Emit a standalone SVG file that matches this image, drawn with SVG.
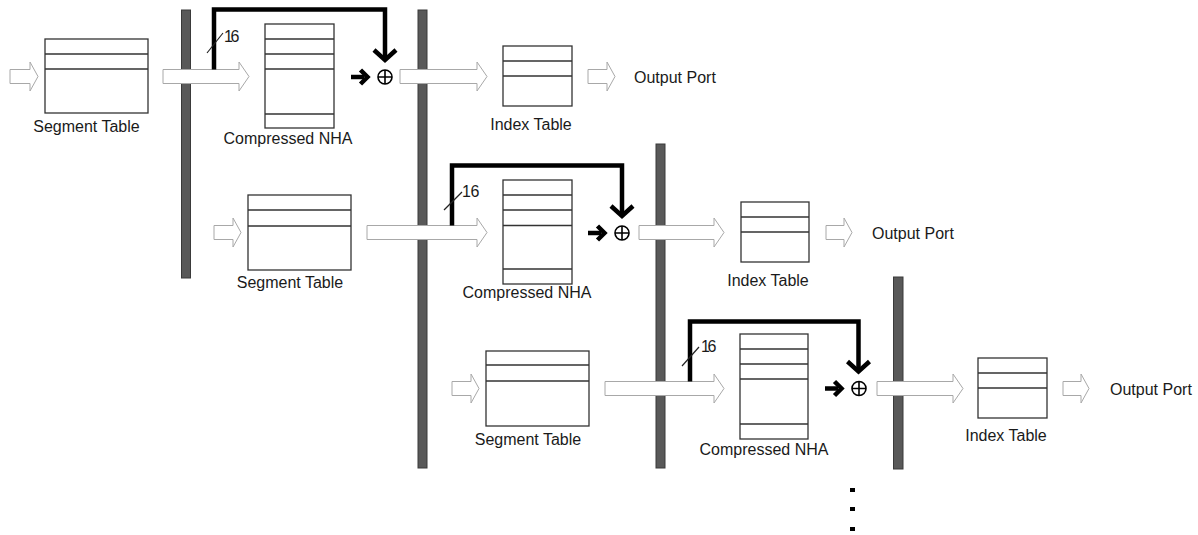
<svg xmlns="http://www.w3.org/2000/svg" width="1198" height="535" viewBox="0 0 1198 535">
  <style>
    .tbl { fill: #ffffff; stroke: #333333; stroke-width: 1.3; }
    .div { stroke: #333333; stroke-width: 1.3; fill: none; }
    .cross { stroke: #000000; stroke-width: 1.6; fill: none; }
    .bar { fill: #595959; stroke: #3a3a3a; stroke-width: 1; }
    .flow { fill: #ffffff; stroke: #a8a8a8; stroke-width: 1; }
    .fb { fill: none; stroke: #000000; stroke-width: 4.5; stroke-linejoin: miter; }
    .thin { fill: none; stroke: #222222; stroke-width: 1.2; }
    .adder { fill: #ffffff; stroke: #000000; stroke-width: 1.6; }
    .lbl { font-family: "Liberation Sans", Arial, sans-serif; font-size: 16px; fill: #1a1a1a; }
    .mid { text-anchor: middle; }
    .w { font-family: "Liberation Sans", Arial, sans-serif; font-size: 16px; fill: #1a1a1a; }
  </style>

  <!-- pipeline registers -->
  <g id="registers">
    <rect id="reg1" class="bar" x="181.5" y="10" width="9" height="268"/>
    <rect id="reg2" class="bar" x="418" y="10" width="9" height="458"/>
    <rect id="reg3" class="bar" x="656" y="144" width="9" height="324"/>
    <rect id="reg4" class="bar" x="893.5" y="277" width="9.5" height="192"/>
  </g>

  <!-- stage 1 -->
  <g id="seg1">
    <rect class="tbl" x="45" y="39" width="103" height="74"/>
    <path class="div" d="M45,54 H148 M45,69 H148"/>
    <text class="lbl mid" x="86.5" y="132">Segment Table</text>
  </g>
  <g id="nha1">
    <rect class="tbl" x="265" y="24" width="69" height="104"/>
    <path class="div" d="M265,39 H334 M265,54 H334 M265,69 H334 M265,114 H334"/>
    <text class="lbl mid" x="288" y="144">Compressed NHA</text>
  </g>
  <g id="add1">
    <circle class="adder" cx="385" cy="77" r="7"/>
    <path class="cross" d="M378,77 H392 M385,70 V84"/>
  </g>
  <g id="idx1">
    <rect class="tbl" x="503" y="46" width="69" height="60"/>
    <path class="div" d="M503,61 H572 M503,76 H572"/>
    <text class="lbl mid" x="531" y="130">Index Table</text>
  </g>
  <g id="out1">
    <text class="lbl" x="634" y="82.5">Output Port</text>
  </g>

  <!-- stage 2 -->
  <g id="seg2">
    <rect class="tbl" x="248" y="195" width="103" height="75"/>
    <path class="div" d="M248,210 H351 M248,226 H351"/>
    <text class="lbl mid" x="290" y="288">Segment Table</text>
  </g>
  <g id="nha2">
    <rect class="tbl" x="503" y="180" width="69" height="104"/>
    <path class="div" d="M503,195 H572 M503,210 H572 M503,225.5 H572 M503,269 H572"/>
    <text class="lbl mid" x="527" y="298">Compressed NHA</text>
  </g>
  <g id="add2">
    <circle class="adder" cx="622" cy="233" r="7"/>
    <path class="cross" d="M615,233 H629 M622,226 V240"/>
  </g>
  <g id="idx2">
    <rect class="tbl" x="741" y="202" width="68" height="60"/>
    <path class="div" d="M741,217 H809 M741,232 H809"/>
    <text class="lbl mid" x="768" y="286">Index Table</text>
  </g>
  <g id="out2">
    <text class="lbl" x="872" y="238.5">Output Port</text>
  </g>

  <!-- stage 3 -->
  <g id="seg3">
    <rect class="tbl" x="486" y="351" width="103" height="75"/>
    <path class="div" d="M486,365 H589 M486,381 H589"/>
    <text class="lbl mid" x="528" y="445">Segment Table</text>
  </g>
  <g id="nha3">
    <rect class="tbl" x="740" y="334" width="68" height="105"/>
    <path class="div" d="M740,349 H808 M740,364 H808 M740,379 H808 M740,424 H808"/>
    <text class="lbl mid" x="764" y="455">Compressed NHA</text>
  </g>
  <g id="add3">
    <circle class="adder" cx="859" cy="388.5" r="7"/>
    <path class="cross" d="M852,388.5 H866 M859,381.5 V395.5"/>
  </g>
  <g id="idx3">
    <rect class="tbl" x="978" y="358" width="69" height="60"/>
    <path class="div" d="M978,373 H1047 M978,388 H1047"/>
    <text class="lbl mid" x="1006" y="441">Index Table</text>
  </g>
  <g id="out3">
    <text class="lbl" x="1110" y="394.5">Output Port</text>
  </g>

  <!-- continuation marks -->
  <g id="more">
    <rect x="850" y="488" width="5" height="4" fill="#000"/>
    <rect x="850" y="507" width="5" height="4" fill="#000"/>
    <rect x="850" y="527" width="5" height="4" fill="#000"/>
  </g>

  <!-- connectors -->
  <g id="connectors">
    <!-- block arrows, stage 1 -->
    <path class="flow" d="M10,69.5 H30 V62 L38,76.5 L30,91 V83.5 H10 Z"/>
    <path class="flow" d="M163,69.5 H239 V62 L249,76.5 L239,91 V83.5 H163 Z"/>
    <path class="flow" d="M400,69.5 H477 V62 L487,76.5 L477,91 V83.5 H400 Z"/>
    <path class="flow" d="M588,69.5 H607 V62 L615,76.5 L607,91 V83.5 H588 Z"/>
    <!-- block arrows, stage 2 -->
    <path class="flow" d="M214,225.5 H233 V218 L241,232.5 L233,247 V239.5 H214 Z"/>
    <path class="flow" d="M367,225.5 H477 V218 L487,232.5 L477,247 V239.5 H367 Z"/>
    <path class="flow" d="M639,225.5 H714 V218 L724,232.5 L714,247 V239.5 H639 Z"/>
    <path class="flow" d="M826,225.5 H844 V218 L852,232.5 L844,247 V239.5 H826 Z"/>
    <!-- block arrows, stage 3 -->
    <path class="flow" d="M452,381.5 H471 V374 L479,388.5 L471,403 V395.5 H452 Z"/>
    <path class="flow" d="M605,381.5 H714 V374 L724,388.5 L714,403 V395.5 H605 Z"/>
    <path class="flow" d="M877,381.5 H953 V374 L963,388.5 L953,403 V395.5 H877 Z"/>
    <path class="flow" d="M1063,381.5 H1081 V374 L1089,388.5 L1081,403 V395.5 H1063 Z"/>

    <!-- 16-bit bypass, stage 1 -->
    <path class="fb" d="M214,69.5 V9.5 H385 V58"/>
    <path class="fb" d="M374,50 L385,60 L396,50"/>
    <path class="thin" d="M207,53 L223,33"/>
    <text class="w" x="224" y="42" letter-spacing="-2.5">16</text>
    <path class="fb" d="M351,77 H364"/>
    <path class="fb" d="M360.5,70 L367.5,77 L360.5,84"/>

    <!-- 16-bit bypass, stage 2 -->
    <path class="fb" d="M452,225.5 V165.5 H622 V214"/>
    <path class="fb" d="M611,206 L622,216 L633,206"/>
    <path class="thin" d="M444,210 L462,192"/>
    <text class="w" x="462" y="197" letter-spacing="-0.5">16</text>
    <path class="fb" d="M588,233 H601"/>
    <path class="fb" d="M597.5,226 L604.5,233 L597.5,240"/>

    <!-- 16-bit bypass, stage 3 -->
    <path class="fb" d="M690,381.5 V321.5 H858.5 V369.5"/>
    <path class="fb" d="M847.5,361.5 L858.5,371.5 L869.5,361.5"/>
    <path class="thin" d="M682,366 L699,347"/>
    <text class="w" x="701" y="352" letter-spacing="-2.5">16</text>
    <path class="fb" d="M825,388.5 H838"/>
    <path class="fb" d="M834.5,381.5 L841.5,388.5 L834.5,395.5"/>
  </g>
</svg>
